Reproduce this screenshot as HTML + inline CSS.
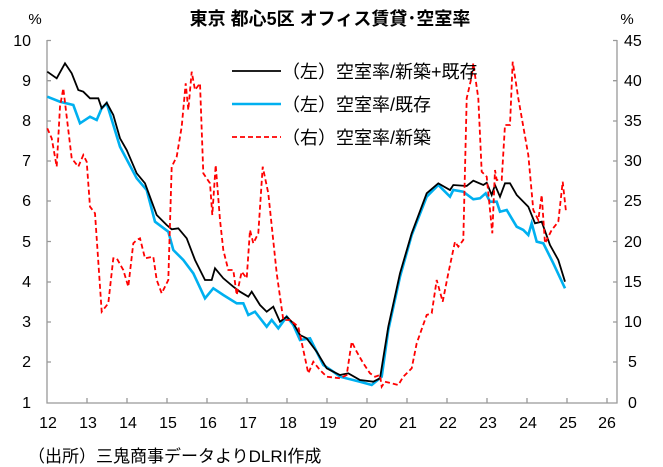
<!DOCTYPE html>
<html><head><meta charset="utf-8"><style>
body{margin:0;background:#fff;}
svg{display:block;font-family:"Liberation Sans","Noto Sans CJK JP",sans-serif;}
</style></head><body>
<svg width="663" height="467" viewBox="0 0 663 467">
<text x="330" y="25" font-size="18" font-weight="bold" text-anchor="middle">東京 都心5区 オフィス賃貸･空室率</text>
<text x="35" y="24" font-size="15" text-anchor="middle">%</text>
<text x="627" y="24" font-size="15" text-anchor="middle">%</text>
<g stroke="#999" stroke-width="1.3" fill="none">
<path d="M47,40 V403 H617 V40"/>
<path d="M87,403v-5M127,403v-5M167,403v-5M207,403v-5M247,403v-5M287,403v-5M327,403v-5M367,403v-5M407,403v-5M447,403v-5M487,403v-5M527,403v-5M567,403v-5M607,403v-5"/>
<path d="M47,40.5h4M47,80.7h4M47,121h4M47,161h4M47,201h4M47,241.5h4M47,282h4M47,322h4M47,362h4"/>
<path d="M617,40.5h-4M617,80.7h-4M617,121h-4M617,161h-4M617,201h-4M617,241.5h-4M617,282h-4M617,322h-4M617,362h-4"/>
</g>
<g font-size="16" text-anchor="end">
<text x="31" y="46">10</text><text x="31" y="86">9</text><text x="31" y="126">8</text><text x="31" y="166">7</text><text x="31" y="206">6</text><text x="31" y="247">5</text><text x="31" y="287">4</text><text x="31" y="327">3</text><text x="31" y="367">2</text><text x="31" y="408">1</text>
</g>
<g font-size="16" text-anchor="start">
<text x="624" y="46">45</text><text x="624" y="86">40</text><text x="624" y="126">35</text><text x="624" y="166">30</text><text x="624" y="206">25</text><text x="624" y="247">20</text><text x="624" y="287">15</text><text x="624" y="327">10</text><text x="628" y="367">5</text><text x="628" y="408">0</text>
</g>
<g font-size="16" text-anchor="middle">
<text x="48" y="428">12</text><text x="88" y="428">13</text><text x="128" y="428">14</text><text x="168" y="428">15</text><text x="208" y="428">16</text><text x="248" y="428">17</text><text x="288" y="428">18</text><text x="328" y="428">19</text><text x="368" y="428">20</text><text x="408" y="428">21</text><text x="448" y="428">22</text><text x="488" y="428">23</text><text x="528" y="428">24</text><text x="568" y="428">25</text><text x="607" y="428">26</text>
</g>
<text x="28" y="462" font-size="17">（出所）三鬼商事データよりDLRI作成</text>
<polyline fill="none" stroke="#00b0f0" stroke-width="2.6" points="47.3,96.7 60,101.7 73.3,105 80,123.3 90,116.7 96.7,120 101.7,108.3 106.7,103.3 120,146.7 136.7,178.3 146.7,190 155,221.7 168.3,231.7 173.3,250 183.3,260 193.3,273.3 205,298.3 213.3,288.3 223.3,295 236.7,303.3 243.3,303.3 248.3,315 255,311.7 266.7,326.7 271.7,320 278.3,328.3 286.7,316.7 293.3,325 300,340 310,338.3 323.3,365 333.3,371.7 340,376.7 360,381.7 371.7,385 381.7,376.7 388.3,330 400,276.7 411.7,235 426.7,196.7 438.3,185 450,196.7 453.3,190 463.3,191.7 473.3,199.3 480,198.3 485.7,193.3 490,201.7 496.7,201.7 500,211.7 506.7,210 516.7,226.7 523.3,230 528.3,235 531.7,223.3 536.7,241.7 543.3,243.3 553.3,263.3 565,288.3"/>
<polyline fill="none" stroke="#000" stroke-width="1.8" points="47.3,71.7 56.7,78.3 65,63.3 71.7,73.3 78.3,90 83.3,91.7 90,98.3 98.3,98.3 101.7,108.3 106.7,102.7 113.3,115 120,138.3 126.7,150 136.7,173.3 145,183.3 156.7,215 166.7,225 171.7,229.3 178.3,228.3 186.7,238.3 195,260 205,280 211.7,280 215,268.3 223.3,278.3 233.3,286.7 240,291.7 248.3,296.7 251.7,291.7 260,305 266.7,311.7 273.3,306.7 280,321.7 286.7,316.7 293.3,323.3 300,335 306.7,338.3 316.7,351.7 326.7,368.3 333.3,371.7 340,375 348.3,373.3 360,380 373.3,381.7 380,378.3 388.3,326.7 400,273.3 411.7,233.3 426.7,193.3 438.3,183.3 450,190 453.3,185 466.7,186 473.3,180.7 483.3,185 486.7,182.7 491.7,195 495,185 500,196.7 505,183.3 510,183.3 516.7,195 528.3,206.7 535,223.3 541.7,221.7 550,245 558.3,260 565,281.7"/>
<polyline fill="none" stroke="#ff0000" stroke-width="1.8" stroke-dasharray="5,3" points="47.3,128.3 51.7,138.3 56.7,166.7 60,106.7 63.3,88.3 66.7,116.7 71.7,158.3 78.3,166.7 83.3,155 86.7,161.7 90,206.7 95,213.3 101.7,311.7 108.3,303.3 113.3,258.3 116.7,258.3 123.3,270 128.3,286.7 133.3,243.3 136.7,240 140,238.3 145,258.3 153.3,256.7 156.7,280 161.7,293.3 168.3,280 171.7,166.7 176.7,156.7 181.7,126.7 185.7,83.3 188.3,110 191.7,71.7 195,90 200,83.3 203.3,173.3 210,183.3 212.3,215 215.7,165 220,220 223.3,250 228.3,270 233.3,270 236.7,295 241.7,271.7 246.7,278.3 250,230 253.3,243.3 258.3,233.3 262.7,166.7 268.3,193.3 276.7,273.3 283.3,320 290,320 298.3,326.7 303.3,350 308.3,373.3 313.3,361.7 320,370 326.7,376.7 340,378.3 346.7,375 351.7,341.7 356.7,351.7 363.3,363.3 370,373.3 375,376.7 380,375 381.7,386.7 385,381.7 391.7,383.3 398.3,385 403.3,376.7 411.7,368.3 416.7,343.3 426.7,315 431.7,313.3 436.7,280 442.7,301.7 448.3,273.3 455,241.7 458.3,246.7 463.3,240 466.7,98.3 471.7,76.7 473.3,63.3 478.3,98.3 481.7,171.7 486.7,176.7 492.3,233.3 495,170 496.7,180 501.7,180 505,125 510,125 512.7,61.7 518.3,98.3 528.3,155 533.3,210 538.3,220 541.7,195 545,243.3 551.7,230 558.3,221.7 562.7,181.7 566,211.7"/>
<line x1="232" y1="71" x2="281" y2="71" stroke="#000" stroke-width="1.8"/>
<line x1="232" y1="104" x2="281" y2="104" stroke="#00b0f0" stroke-width="2.6"/>
<line x1="232" y1="137" x2="281" y2="137" stroke="#ff0000" stroke-width="1.8" stroke-dasharray="5,3"/>
<g font-size="18">
<text x="282" y="78">（左）空室率/新築+既存</text>
<text x="282" y="111">（左）空室率/既存</text>
<text x="282" y="144">（右）空室率/新築</text>
</g>
</svg>
</body></html>
